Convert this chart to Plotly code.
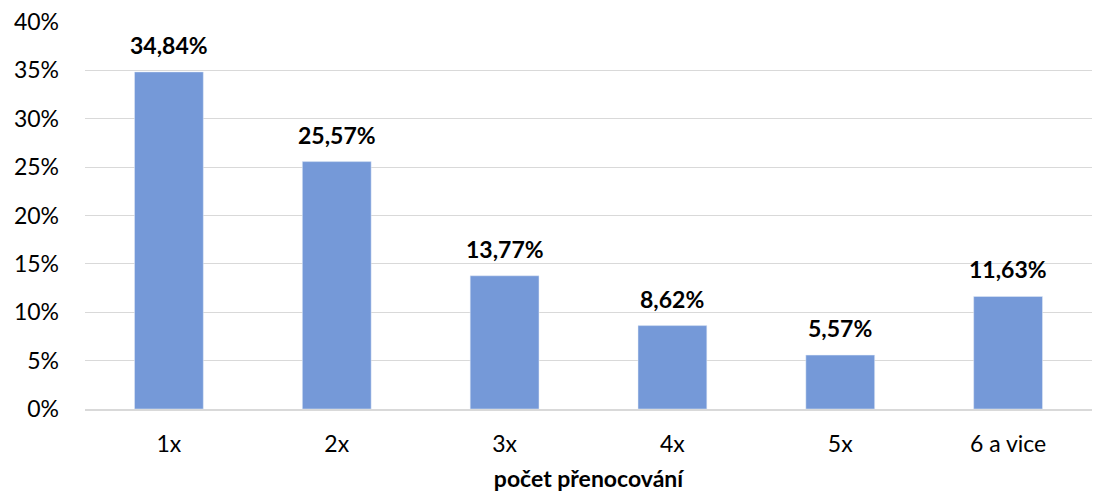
import plotly.graph_objects as go

categories = ["1x", "2x", "3x", "4x", "5x", "6 a vice"]
shares = [0.3484, 0.2557, 0.1377, 0.0862, 0.0557, 0.1163]

fig = go.Figure()
fig.add_trace(go.Bar(
    x=categories,
    y=shares,
    marker=dict(color="#7599d8"),
))

# data labels above bars
for c, v in zip(categories, shares):
    fig.add_annotation(
        x=c, y=v, text="<b>" + f"{v * 100:.2f}".replace(".", ",") + "%</b>",
        showarrow=False, yanchor="bottom", yshift=11,
        font=dict(size=23, color="black"),
    )

fig.update_layout(
    width=1104, height=494,
    margin=dict(l=85, r=12, t=22, b=85),
    plot_bgcolor="white",
    paper_bgcolor="white",
    bargap=0.59,
    showlegend=False,
    font=dict(family="Lato, Liberation Sans, sans-serif", size=23, color="black"),
    xaxis=dict(
        title=dict(text="<b>počet přenocování</b>", font=dict(size=23), standoff=15),
        showline=True, linecolor="#d9d9d9", linewidth=1.5,
        ticks="", ticklabelstandoff=14, automargin=False,
    ),
    yaxis=dict(
        range=[0, 0.4],
        dtick=0.05,
        tickformat=".0%",
        showgrid=True, gridcolor="#d9d9d9", gridwidth=1,
        zeroline=False,
        ticks="", ticklabelstandoff=25, automargin=False,
    ),
)

fig.write_html("out.html", config={"displayModeBar": False},
               post_script="document.body.style.margin='0';")
